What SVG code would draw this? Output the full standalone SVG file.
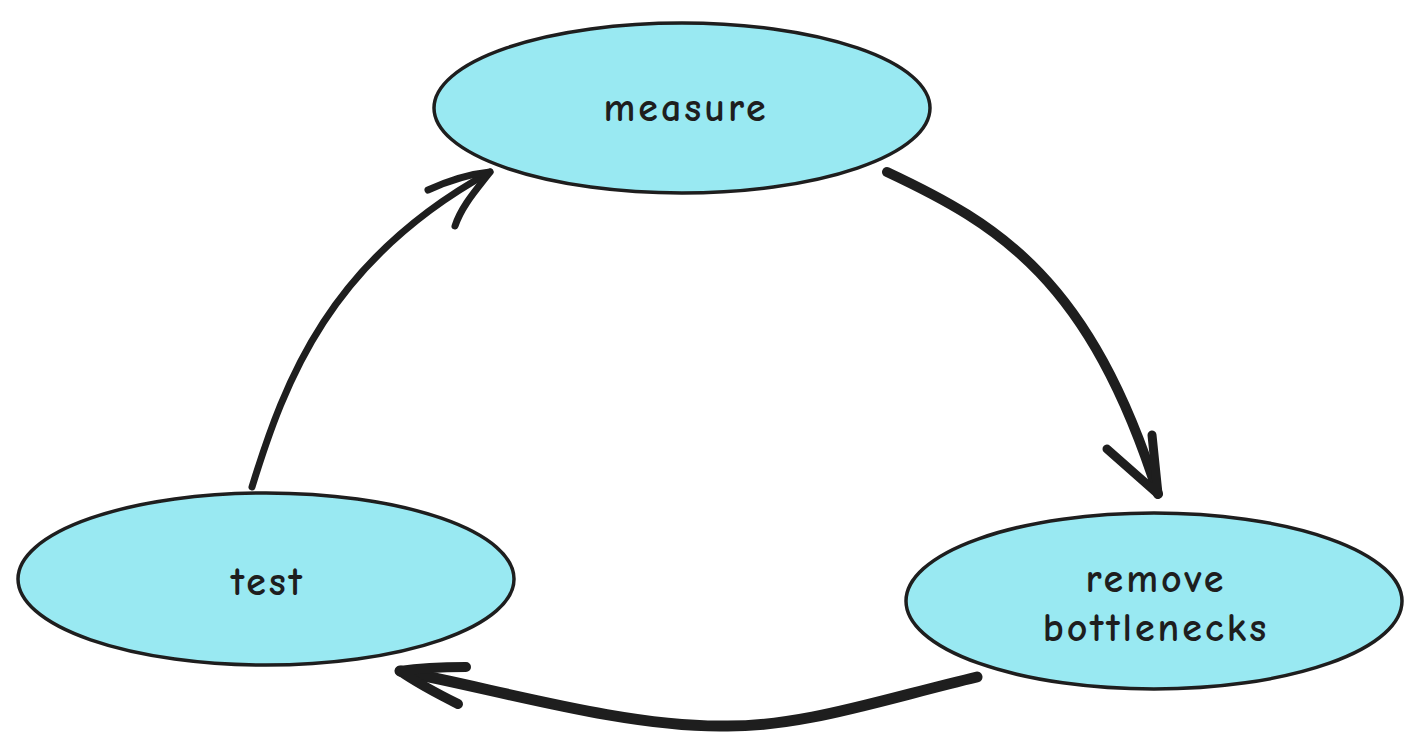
<svg xmlns="http://www.w3.org/2000/svg" width="1420" height="753" viewBox="0 0 1420 753">
<style>
.node{fill:#99e9f2;stroke:#1e1e1e;stroke-width:3.5}
.lbl{font-family:"Comic Neue","Open Sans","Liberation Sans",sans-serif;font-size:40px;letter-spacing:3px;fill:#1e1e1e;text-anchor:middle;font-weight:600}
.conn{fill:none;stroke:#1e1e1e;stroke-linecap:round;stroke-linejoin:round}
</style>
<rect width="1420" height="753" fill="#ffffff"/>
<g id="connectors">
<g id="test-to-measure">
<path class="conn" stroke-width="7" d="M252,487 C285,380 330,260 490,172"/>
<path class="conn" stroke-width="7" d="M428,190 C450,180 470,174 490,172 C478,188 462,205 455,226"/>
</g>
<g id="measure-to-remove">
<path class="conn" stroke-width="10" d="M887,172 C1000,225 1090,280 1158,494"/>
<path class="conn" stroke-width="9" d="M1107,449 C1125,465 1142,480 1158,494 C1156,475 1154,455 1152,435"/>
</g>
<g id="remove-to-test">
<path class="conn" stroke-width="11" d="M977,677 C880,700 800,728 720,726 C620,726 500,690 400,671"/>
<path class="conn" stroke-width="10" d="M466,667 C445,667 420,668 400,671 C420,685 440,695 458,704"/>
</g>
</g>
<g id="node-measure">
<ellipse class="node" cx="682" cy="108" rx="248" ry="85"/>
<text class="lbl" x="686" y="121">measure</text>
</g>
<g id="node-test">
<ellipse class="node" cx="266" cy="579" rx="248" ry="86"/>
<text class="lbl" x="268" y="595">test</text>
</g>
<g id="node-remove">
<ellipse class="node" cx="1154" cy="601" rx="248" ry="88"/>
<text class="lbl" x="1156" y="592">remove</text>
<text class="lbl" x="1156" y="641">bottlenecks</text>
</g>
</svg>
